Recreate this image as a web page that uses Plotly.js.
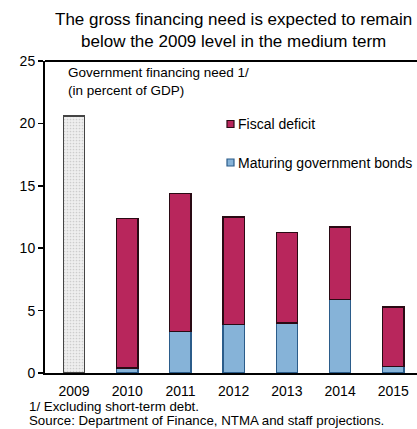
<!DOCTYPE html>
<html><head><meta charset="utf-8">
<script src="https://cdn.plot.ly/plotly-3.0.1.min.js"></script>
<style>html,body{margin:0;padding:0;background:#fff}#c{width:417px;height:429px}</style>
</head><body><div id="c"></div>
<script>
const years = ['2009','2010','2011','2012','2013','2014','2015'];
const total2009 = [20.6, null, null, null, null, null, null];
const maturingBonds = [null, 0.4, 3.3, 3.9, 4.0, 5.9, 0.5];
const fiscalDeficit = [null, 12.0, 11.1, 8.6, 7.25, 5.8, 4.8];
const legendNames = ['Fiscal deficit', 'Maturing government bonds'];
const legendColors = ['#b8265c', '#86b3d8'];
const legendLines = ['#2a0a14', '#2b5c8a'];
const footnotes = ['1/ Excluding short-term debt.', 'Source: Department of Finance, NTMA and staff projections.'];

const font = 'Liberation Sans, Arial, sans-serif';
const W = 417, H = 429, L = 45, R = 0, T = 61, B = 56;
const px = x => (x - L) / (W - L - R);
const py = y => (H - B - y) / (H - T - B);

const traces = [
  {type:'bar', x:years, y:total2009, width:0.4, showlegend:false, hoverinfo:'skip',
   marker:{color:'#eeeeee', line:{color:'#444', width:1.3},
           pattern:{shape:'.', fgcolor:'#cdcdcd', bgcolor:'#efefef', size:3, solidity:0.25}}},
  {type:'bar', x:years, y:maturingBonds, width:0.4, name:legendNames[1], showlegend:false,
   marker:{color:legendColors[1], line:{color:legendLines[1], width:1.3}}},
  {type:'bar', x:years, y:fiscalDeficit, width:0.4, name:legendNames[0], showlegend:false,
   marker:{color:legendColors[0], line:{color:legendLines[0], width:1.3}}}
];

const shapes = [{type:'line', xref:'paper', yref:'paper', x0:0, x1:1, y0:1, y1:1, line:{color:'#000', width:2}}];
const annotations = [
  {xref:'paper', yref:'paper', x:px(233), y:py(31), xanchor:'center', yanchor:'middle', align:'center', showarrow:false,
   text:'The gross financing need is expected to remain<br>below the 2009 level in the medium term', font:{size:17}},
  {xref:'paper', yref:'paper', x:px(66), y:py(81), xanchor:'left', yanchor:'middle', align:'left', showarrow:false,
   text:'Government financing need 1/<br>(in percent of GDP)', font:{size:13.5}}
];
const footY = [406.5, 421];
footnotes.forEach((t, i) => annotations.push({xref:'paper', yref:'paper', x:px(28), y:py(footY[i]), xanchor:'left',
  yanchor:'middle', align:'left', showarrow:false, borderpad:0, text:t, font:{size:13.3}}));
const legendY = [124, 162.5];
legendNames.forEach((n, i) => {
  shapes.push({type:'rect', xref:'paper', yref:'paper', x0:px(227), x1:px(234), y0:py(legendY[i]-3.5), y1:py(legendY[i]+3.5),
               fillcolor:legendColors[i], line:{color:legendLines[i], width:1.2}});
  annotations.push({xref:'paper', yref:'paper', x:px(235.5), y:py(legendY[i]), xanchor:'left', yanchor:'middle',
                    showarrow:false, text:n, font:{size:14}});
});

const layout = {
  width:W, height:H, barmode:'stack',
  margin:{l:L, r:R, t:T, b:B},
  paper_bgcolor:'#fff', plot_bgcolor:'#fff',
  font:{family:font, color:'#000', size:12},
  xaxis:{type:'category', range:[-0.545, 6.445], showline:true, linecolor:'#000', linewidth:2,
         ticks:'', tickfont:{size:14}, ticklabelstandoff:4, showgrid:false, zeroline:false, fixedrange:true},
  yaxis:{range:[0,25], dtick:5, showline:true, linecolor:'#000', linewidth:2, ticks:'outside',
         ticklen:5, tickwidth:1.5, tickcolor:'#000', tickfont:{size:14}, showgrid:false,
         zeroline:false, fixedrange:true},
  shapes, annotations, showlegend:false
};
Plotly.newPlot('c', traces, layout, {displayModeBar:false, staticPlot:true});
</script></body></html>
